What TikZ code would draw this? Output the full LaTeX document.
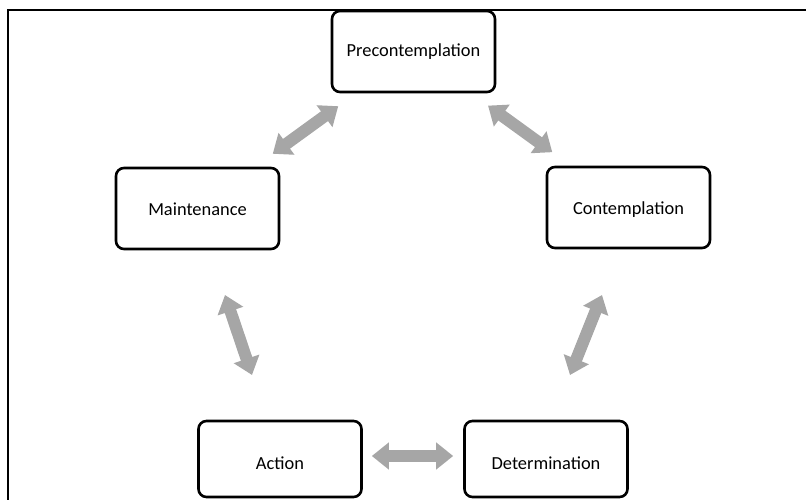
\documentclass[tikz,border=0pt]{standalone}
\usepackage{fontspec}
\setmainfont{Carlito}
\usetikzlibrary{arrows.meta}
\definecolor{arrowgray}{HTML}{A6A6A6}
\newcommand{\lowered}[2]{\raisebox{-#1}[\height][\depth]{#2}}
\tikzset{
  stage/.style={draw=black, line width=2.6pt, rounded corners=8pt, fill=white,
    minimum width=163pt, minimum height=81pt, inner sep=0pt,
    font=\fontsize{18.4}{22}\selectfont},
  flow/.style={draw=arrowgray, line width=12pt,
    {Triangle[length=17pt,width=26pt]}-{Triangle[length=17pt,width=26pt]}},
}
\begin{document}
\begin{tikzpicture}[x=1pt, y=-1pt]
  \useasboundingbox (0,0) rectangle (806,500);
  % frame edges
  \draw[line width=2pt] (806,10) -- (8,10) -- (8,500);

  % stages of change
  \node[stage] (P) at (413.5,51.5) {Precontemplation};
  \node[stage] (C) at (628.5,207.5) {\lowered{2pt}{Contemplation}};
  \node[stage] (M) at (197.5,208.5) {\lowered{1pt}{Maintenance}};
  \node[stage, minimum height=76pt] (A) at (280,459) {\lowered{4pt}{Action}};
  \node[stage, minimum height=76pt] (D) at (546,459) {\lowered{4pt}{Determination}};

  % end points of the two steep arrows
  \coordinate (ma1) at (225,295);
  \coordinate (ma2) at (252,375);
  \coordinate (cd1) at (602,295);
  \coordinate (cd2) at (570,375);

  % two-way arrows between the stages
  \draw[flow, shorten <=22pt, shorten >=22pt] (M) -- (P);
  \draw[flow, shorten <=21pt, shorten >=23pt] (P) -- (C);
  \draw[flow] (cd1) -- (cd2);
  \draw[flow] (ma1) -- (ma2);
  \draw[flow, shorten <=9pt, shorten >=10pt] ([yshift=3pt]A.east) -- ([yshift=3pt]D.west);
\end{tikzpicture}
\end{document}
